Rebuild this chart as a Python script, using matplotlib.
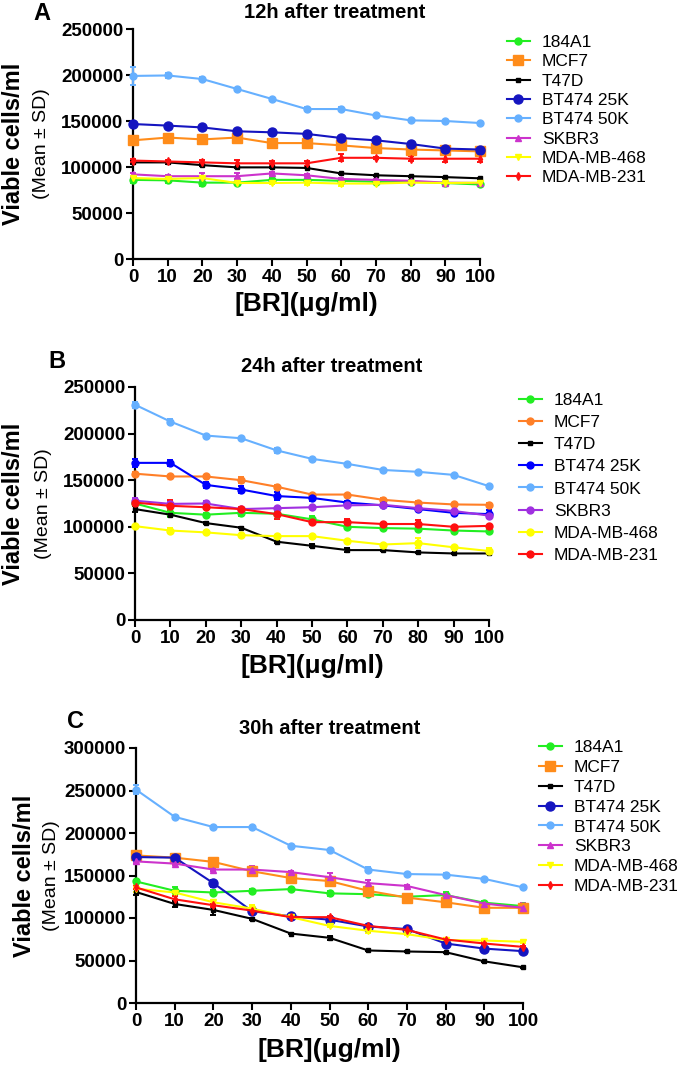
import matplotlib
matplotlib.use("Agg")
import matplotlib.pyplot as plt
from matplotlib.lines import Line2D

plt.rcParams['font.family'] = ['Liberation Sans', 'DejaVu Sans']

conc = [0, 10, 20, 30, 40, 50, 60, 70, 80, 90, 100]
cell_lines = ['184A1', 'MCF7', 'T47D', 'BT474 25K', 'BT474 50K', 'SKBR3', 'MDA-MB-468', 'MDA-MB-231']

# ---- Panel A: 12h after treatment (mean, SD) ----
a_184A1 = [86000, 85500, 83000, 83000, 86000, 86000, 85000, 84000, 84000, 82600, 81000]
a_MCF7 = [129000, 132000, 130000, 132000, 126000, 126000, 123500, 120600, 119000, 118000, 117000]
a_T47D = [105000, 105000, 102000, 99600, 99600, 99000, 93000, 91000, 90000, 89000, 87700]
a_BT474_25K = [146700, 145000, 143000, 138800, 137700, 136000, 131500, 129000, 125000, 120000, 119000]
a_BT474_50K = [199000, 199500, 195600, 184800, 174000, 163000, 163000, 156000, 150700, 150000, 147800]
a_SKBR3 = [92000, 90000, 90000, 90000, 93000, 91000, 87000, 86000, 85000, 83000, 82600]
a_MDA468 = [88000, 87000, 88000, 82600, 82600, 83000, 82000, 82000, 83000, 82600, 83000]
a_MDA231 = [107000, 106000, 105000, 104000, 104000, 104000, 110000, 110000, 109000, 109000, 109000]

a_sd_184A1 = [3000, 3000, 3500, 3000, 2000, 1000, 1000, 1000, 1000, 1000, 1000]
a_sd_MCF7 = [3000, 1500, 1500, 2000, 2500, 3000, 2000, 2500, 1500, 2000, 1500]
a_sd_T47D = [2000, 2000, 1000, 500, 500, 500, 500, 500, 500, 500, 500]
a_sd_BT474_25K = [3000, 1000, 1000, 1000, 2000, 1000, 1000, 2500, 1000, 3000, 1500]
a_sd_BT474_50K = [10000, 3000, 2500, 1000, 1000, 2000, 2000, 1000, 1000, 1000, 1000]
a_sd_SKBR3 = [1500, 1000, 4000, 3500, 1500, 1000, 1000, 1000, 1000, 1000, 1000]
a_sd_MDA468 = [1000, 1000, 1000, 1000, 1500, 3000, 3000, 1000, 1000, 1000, 1000]
a_sd_MDA231 = [1500, 2000, 3000, 3500, 2000, 3000, 4000, 1000, 3000, 4000, 4000]

# ---- Panel B: 24h after treatment ----
b_184A1 = [125000, 115000, 113000, 115000, 114000, 108000, 100000, 98600, 98000, 96000, 95000]
b_MCF7 = [157000, 154000, 154000, 150000, 143000, 134600, 134600, 129000, 126000, 124000, 123600]
b_T47D = [119000, 113000, 104000, 99000, 84000, 79600, 75000, 75000, 72500, 71400, 71400]
b_BT474_25K = [168600, 168600, 145000, 140000, 133000, 131000, 126000, 123000, 119000, 115000, 113600]
b_BT474_50K = [231000, 212900, 197900, 195000, 182000, 172900, 167500, 161000, 159000, 155700, 143600]
b_SKBR3 = [128000, 124600, 125000, 119000, 120000, 121000, 123000, 123600, 120000, 117000, 112000]
b_MDA468 = [100700, 96000, 94000, 91000, 90000, 90000, 85000, 81000, 82500, 78000, 74000]
b_MDA231 = [126000, 122500, 121000, 119000, 113600, 105000, 105000, 103000, 103000, 100000, 101000]

b_sd_184A1 = [2000, 4000, 1500, 3000, 2000, 4000, 1500, 1500, 1000, 1000, 1000]
b_sd_MCF7 = [2000, 1000, 1000, 3000, 1500, 1000, 1000, 1500, 2000, 2000, 2000]
b_sd_T47D = [3000, 1000, 1000, 500, 1000, 1500, 2500, 500, 500, 500, 500]
b_sd_BT474_25K = [4000, 3000, 3500, 3500, 4000, 3000, 2000, 2000, 1500, 1500, 4000]
b_sd_BT474_50K = [3000, 2500, 1000, 1000, 2500, 1000, 1000, 1000, 1000, 1000, 1000]
b_sd_SKBR3 = [3000, 1500, 3000, 1500, 1500, 1500, 1500, 1500, 1500, 1500, 3000]
b_sd_MDA468 = [1000, 2500, 1000, 1000, 1000, 1000, 1000, 1000, 5000, 1000, 3000]
b_sd_MDA231 = [2000, 6000, 1500, 2500, 5000, 1500, 3000, 1000, 4000, 1000, 1000]

# ---- Panel C: 30h after treatment ----
c_184A1 = [143000, 132000, 130000, 132000, 134000, 129000, 128000, 125000, 127000, 118000, 114000]
c_MCF7 = [173600, 171000, 166000, 155000, 147000, 143500, 132000, 124000, 118500, 112000, 112000]
c_T47D = [130600, 116500, 109500, 99000, 81700, 76700, 61800, 60600, 59800, 49000, 42000]
c_BT474_25K = [171700, 171000, 141000, 108000, 102000, 98000, 90000, 87000, 70000, 64000, 61000]
c_BT474_50K = [251000, 219000, 207000, 207000, 185000, 180000, 157000, 151700, 151000, 146000, 136000]
c_SKBR3 = [166600, 164000, 157000, 157000, 154000, 148000, 141000, 137700, 127000, 117000, 112000]
c_MDA468 = [134500, 130000, 118500, 111000, 101000, 90700, 85000, 81000, 74000, 73500, 72000]
c_MDA231 = [136000, 122000, 115000, 108700, 101000, 101000, 90700, 86000, 74700, 70000, 66000]

c_sd_184A1 = [2000, 4000, 3000, 2000, 1000, 3000, 1500, 1500, 4000, 1500, 2000]
c_sd_MCF7 = [2000, 1500, 3000, 2000, 4000, 2000, 2000, 3000, 2000, 2000, 2000]
c_sd_T47D = [4000, 3000, 6000, 1000, 1000, 2000, 1000, 500, 500, 500, 500]
c_sd_BT474_25K = [2000, 3000, 4000, 1500, 3000, 3000, 1500, 1500, 1500, 1500, 1500]
c_sd_BT474_50K = [5000, 1000, 1000, 1000, 1000, 1000, 3000, 1000, 2000, 1000, 1000]
c_sd_SKBR3 = [2000, 1500, 2000, 4000, 1500, 5000, 4000, 1500, 1500, 1500, 6000]
c_sd_MDA468 = [4000, 2000, 3000, 4000, 1500, 1500, 3000, 1500, 1500, 1500, 1500]
c_sd_MDA231 = [1500, 4000, 1500, 1500, 1500, 1500, 1500, 1500, 1500, 1500, 1500]

panel_titles = ['12h after treatment', '24h after treatment', '30h after treatment']
panel_letters = ['A', 'B', 'C']
y_ticks_ab = [0, 50000, 100000, 150000, 200000, 250000]
y_ticks_c = [0, 50000, 100000, 150000, 200000, 250000, 300000]
x_ticks = [0, 10, 20, 30, 40, 50, 60, 70, 80, 90, 100]

W, H = 685, 1068
fig = plt.figure(figsize=(W / 100, H / 100), dpi=100)

def fx(px):
    return px / W

def fy(py):
    return 1 - py / H

# styles: (color, marker, size)
style_ac = [
    ('#22EE22', 'o', 5),
    ('#FF8C1A', 's', 6.5),
    ('#000000', 's', 3.5),
    ('#1515C0', 'o', 6.5),
    ('#66B0FF', 'o', 5),
    ('#CC33CC', '^', 5),
    ('#FFFF00', 'v', 5),
    ('#FF1010', 'd', 4),
]
style_b = [
    ('#22EE22', 'o', 5),
    ('#FF7F27', 'o', 5),
    ('#000000', 's', 3),
    ('#0000FF', 'o', 5),
    ('#66B0FF', 'o', 5),
    ('#A030E0', 'o', 5),
    ('#FFFF00', 'o', 5),
    ('#FF1010', 'o', 5),
]

panels = [
    dict(vals=[a_184A1, a_MCF7, a_T47D, a_BT474_25K, a_BT474_50K, a_SKBR3, a_MDA468, a_MDA231],
         sds=[a_sd_184A1, a_sd_MCF7, a_sd_T47D, a_sd_BT474_25K, a_sd_BT474_50K, a_sd_SKBR3, a_sd_MDA468, a_sd_MDA231],
         box=(133, 29, 480, 259), ymax=250000, yticks=y_ticks_ab, style=style_ac,
         title_xy=(335, 12), letter_xy=(42, 13), xlab_y=304,
         ylab_x=14, ylab2_x=41,
         leg=(507, 35, 0.24)),
    dict(vals=[b_184A1, b_MCF7, b_T47D, b_BT474_25K, b_BT474_50K, b_SKBR3, b_MDA468, b_MDA231],
         sds=[b_sd_184A1, b_sd_MCF7, b_sd_T47D, b_sd_BT474_25K, b_sd_BT474_50K, b_sd_SKBR3, b_sd_MDA468, b_sd_MDA231],
         box=(135, 387, 489, 620), ymax=250000, yticks=y_ticks_ab, style=style_b,
         title_xy=(332, 367), letter_xy=(57, 361), xlab_y=666,
         ylab_x=14, ylab2_x=44,
         leg=(519, 393, 0.4)),
    dict(vals=[c_184A1, c_MCF7, c_T47D, c_BT474_25K, c_BT474_50K, c_SKBR3, c_MDA468, c_MDA231],
         sds=[c_sd_184A1, c_sd_MCF7, c_sd_T47D, c_sd_BT474_25K, c_sd_BT474_50K, c_sd_SKBR3, c_sd_MDA468, c_sd_MDA231],
         box=(136, 748, 523, 1003), ymax=300000, yticks=y_ticks_c, style=style_ac,
         title_xy=(330, 728), letter_xy=(76, 721), xlab_y=1050,
         ylab_x=25, ylab2_x=52,
         leg=(539, 740, 0.27)),
]

for p, title, letter in zip(panels, panel_titles, panel_letters):
    x0, y0, x1, y1 = p['box']
    ax = fig.add_axes([fx(x0), fy(y1), (x1 - x0) / W, (y1 - y0) / H])
    handles = []
    for name, v, sd, (col, mk, ms) in zip(cell_lines, p['vals'], p['sds'], p['style']):
        ax.errorbar(conc, v, yerr=sd, color=col, marker=mk, markersize=ms,
                    linewidth=1.5, elinewidth=1.4, capsize=2.5, capthick=1.4,
                    markeredgecolor=col, clip_on=False, zorder=3)
        handles.append(Line2D([0], [0], color=col, marker=mk, markersize=ms,
                              linewidth=1.5, markeredgecolor=col))
    ax.set_xlim(0, 100)
    ax.set_ylim(0, p['ymax'])
    ax.set_xticks(x_ticks)
    ax.set_yticks(p['yticks'])
    ax.set_xticklabels([str(t) for t in x_ticks], fontsize=13.5, fontweight='bold')
    ax.set_yticklabels([str(t) for t in p['yticks']], fontsize=13.5, fontweight='bold')
    for s in ['top', 'right']:
        ax.spines[s].set_visible(False)
    for s in ['left', 'bottom']:
        ax.spines[s].set_linewidth(1.6)
    ax.tick_params(axis='both', direction='out', length=5, width=1.5, pad=2)
    ax.patch.set_alpha(0)

    fig.text(fx(p['title_xy'][0]), fy(p['title_xy'][1]), title, fontsize=14.5,
             fontweight='bold', ha='center', va='center')
    fig.text(fx(p['letter_xy'][0]), fy(p['letter_xy'][1]), letter, fontsize=17,
             fontweight='bold', ha='center', va='center')
    fig.text(fx((x0 + x1) / 2), fy(p['xlab_y']), '[BR](μg/ml)', fontsize=19,
             fontweight='bold', ha='center', va='center')
    yc = (y0 + y1) / 2
    fig.text(fx(p['ylab_x']), fy(yc), 'Viable cells/ml', fontsize=17,
             fontweight='bold', rotation=90, ha='center', va='center')
    fig.text(fx(p['ylab2_x']), fy(yc), '(Mean ± SD)', fontsize=14,
             rotation=90, ha='center', va='center')

    lx, ly, lsp = p['leg']
    fig.legend(handles, cell_lines, loc='upper left',
               bbox_to_anchor=(fx(lx), fy(ly)), frameon=False, fontsize=12.5,
               handlelength=1.3, handletextpad=0.7, labelspacing=lsp,
               borderpad=0, borderaxespad=0, numpoints=1)

fig.savefig('out.png', dpi=100)
